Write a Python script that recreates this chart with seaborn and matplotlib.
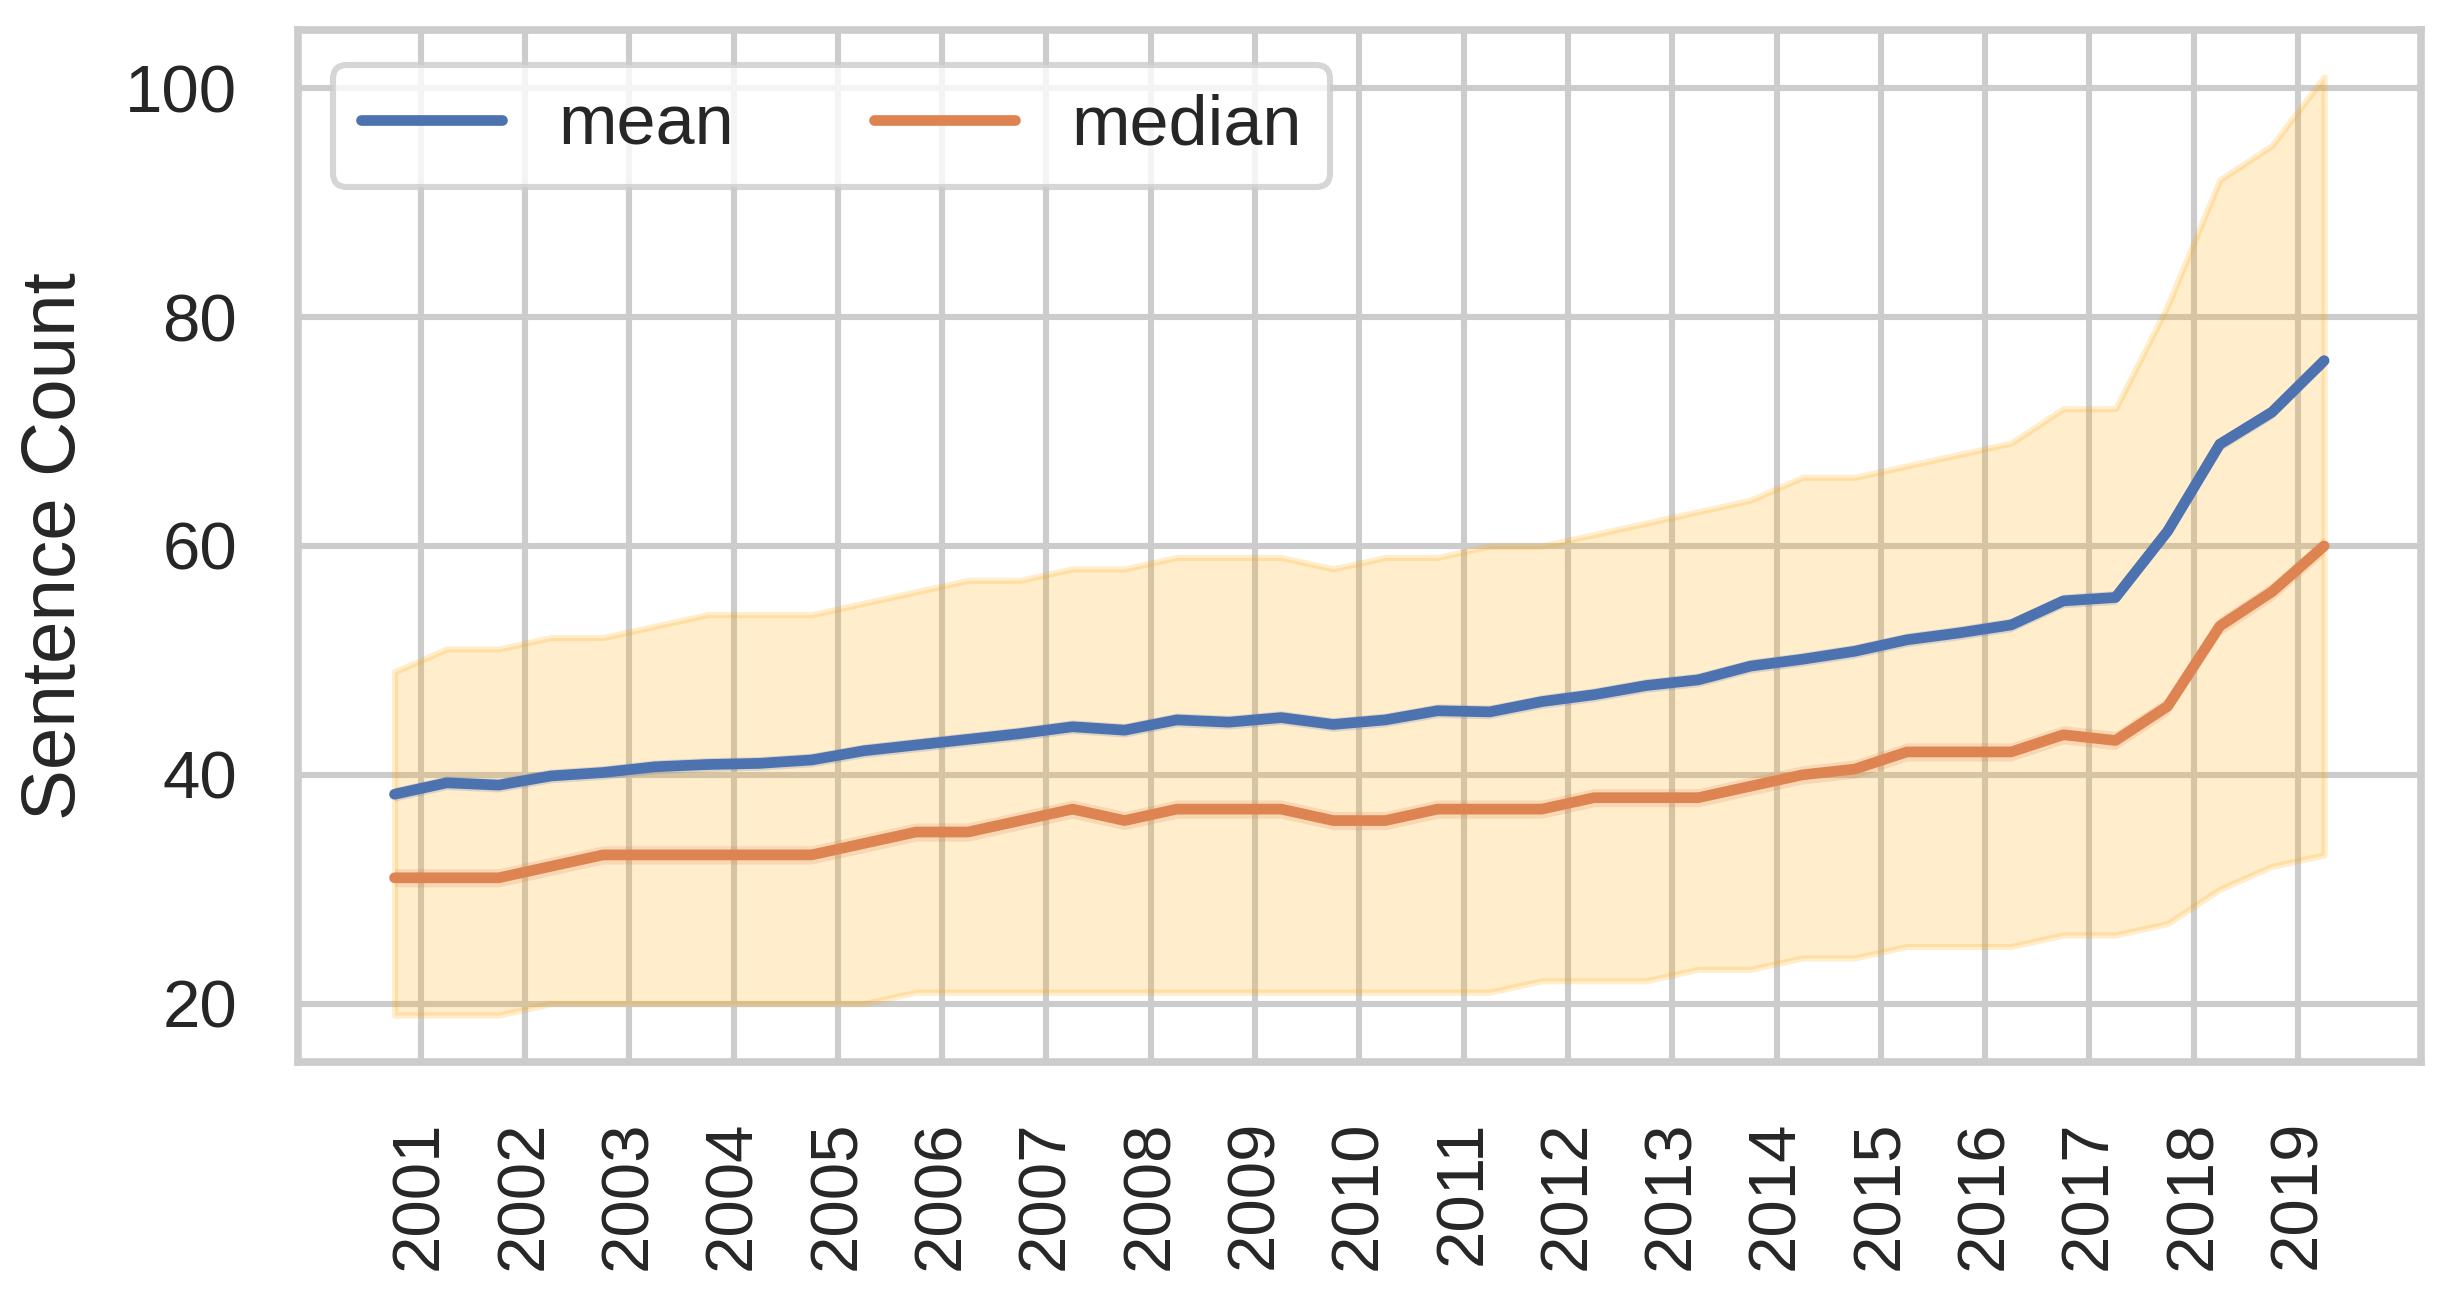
import pandas as pd
import matplotlib.pyplot as plt
import seaborn as sns


'''half-year periods and sentence count stats read off the chart'''
period = [2000.75, 2001.25, 2001.75, 2002.25, 2002.75, 2003.25, 2003.75, 2004.25,
          2004.75, 2005.25, 2005.75, 2006.25, 2006.75, 2007.25, 2007.75, 2008.25,
          2008.75, 2009.25, 2009.75, 2010.25, 2010.75, 2011.25, 2011.75, 2012.25,
          2012.75, 2013.25, 2013.75, 2014.25, 2014.75, 2015.25, 2015.75, 2016.25,
          2016.75, 2017.25, 2017.75, 2018.25, 2018.75, 2019.25]

mean = [38.3, 39.3, 39.1, 39.9, 40.2, 40.7, 40.9, 41.0, 41.3, 42.1, 42.6, 43.1,
        43.6, 44.2, 43.9, 44.8, 44.6, 45.0, 44.4, 44.8, 45.6, 45.5, 46.4, 47.0,
        47.8, 48.3, 49.5, 50.1, 50.8, 51.8, 52.4, 53.1, 55.2, 55.5, 61.3, 68.9,
        71.7, 76.2]

median = [31, 31, 31, 32, 33, 33, 33, 33, 33, 34, 35, 35, 36, 37, 36, 37, 37, 37,
          36, 36, 37, 37, 37, 38, 38, 38, 39, 40, 40.5, 42, 42, 42, 43.5, 43, 46,
          53, 56, 60]

upper = [49, 51, 51, 52, 52, 53, 54, 54, 54, 55, 56, 57, 57, 58, 58, 59, 59, 59,
         58, 59, 59, 60, 60, 61, 62, 63, 64, 66, 66, 67, 68, 69, 72, 72, 81, 92,
         95, 101]

lower = [19, 19, 19, 20, 20, 20, 20, 20, 20, 20, 21, 21, 21, 21, 21, 21, 21, 21,
         21, 21, 21, 21, 22, 22, 22, 23, 23, 24, 24, 25, 25, 25, 26, 26, 27, 30,
         32, 33]

mean_ci = 0.6
median_ci = 0.8

years = list(range(2001, 2020))


sns.set_theme(style="whitegrid", context="poster")
plt.rcParams['font.family'] = ['Liberation Sans', 'DejaVu Sans']
plt.rcParams['xtick.major.pad'] = 7
plt.rcParams['ytick.major.pad'] = 8
plt.rcParams['legend.fontsize'] = 23

df = pd.DataFrame({'period': period, 'mean': mean, 'median': median})
long_df = df.melt(id_vars='period', var_name='stat', value_name='count')

fig = plt.figure(figsize=(2451 / 220, 1304 / 220), dpi=220)
ax = fig.add_axes([0.1216, 0.1856, 0.866, 0.7914])

'''spread band'''
ax.fill_between(period, lower, upper, color='orange', alpha=0.2)

palette = sns.color_palette("deep")
for vals, ci, c in [(mean, mean_ci, palette[0]), (median, median_ci, palette[1])]:
    ax.fill_between(period, [v - ci for v in vals], [v + ci for v in vals],
                    color=c, alpha=0.2, linewidth=0)

sns.lineplot(data=long_df, x='period', y='count', hue='stat', ax=ax,
             palette=palette[:2], linewidth=3.5)

ax.set_xticks(years)
ax.set_xticklabels([str(y) for y in years], rotation=90)
ax.set_xlabel('')
ax.set_ylabel('Sentence Count', fontsize=25, labelpad=11)

handles, labels = ax.get_legend_handles_labels()
ax.legend(handles, labels, loc='upper left', ncol=2)

fig.savefig('out.png', dpi=220)
